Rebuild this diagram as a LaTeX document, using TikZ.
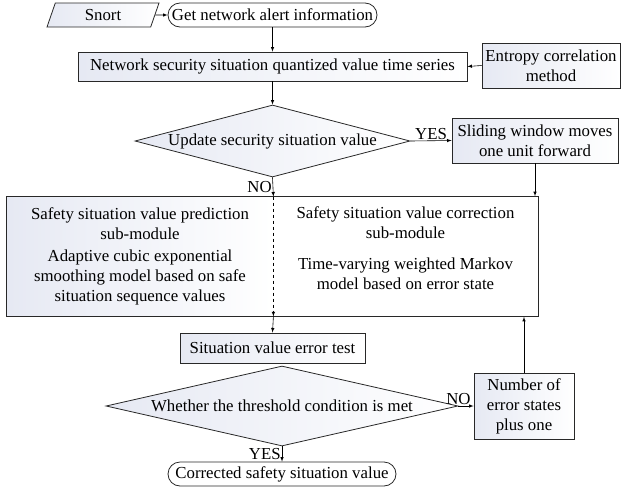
\documentclass[tikz,border=0pt]{standalone}
\usepackage{fontspec}
\setmainfont{Liberation Serif}
\usepackage{tikz}
\usetikzlibrary{arrows,calc,positioning,shapes,fit}
\definecolor{my_shade}{RGB}{230,233,243}
\definecolor{my_line}{RGB}{40,40,40}
\tikzset{
  flownode/.style = {align=center, inner sep=1pt, draw=my_line, line width=0.8pt,
  text=black, font=\fontsize{16.8}{20}\selectfont},
  shaded/.style = {left color=my_shade, right color=white},
  procbox/.style = {flownode, shaded, rectangle},
  termbox/.style = {flownode, rectangle, rounded corners=12pt},
  decide/.style = {flownode, shaded, diamond, inner sep=0pt},
  iobox/.style = {flownode, shaded, trapezium, trapezium left angle=58,
  trapezium right angle=122, trapezium stretches body},
  tag/.style = {font=\fontsize{16.8}{20}\selectfont, inner sep=1pt}
}

\begin{document}
\begin{tikzpicture}[->,>=latex,x=1pt,y=1pt,line width=0.6pt]
  \useasboundingbox (0,0) rectangle (621,-490);
  % top row
  \node [iobox, minimum width=112pt, minimum height=24pt] (snort) at (103,-15) {Snort};
  \node [termbox, minimum width=209pt, minimum height=24pt] (alert) at (272.5,-15) {Get network alert information};
  \node [procbox, minimum width=389pt, minimum height=29pt] (series) at (272.5,-66.5) {Network security situation quantized value time series};
  \node [procbox, minimum width=138pt, minimum height=45pt] (entropy) at (551,-65.5) {Entropy correlation\\method};
  % update decision
  \node [decide, minimum width=275pt, minimum height=72pt, aspect=3.8] (update) at (272.5,-141) {Update security situation value};
  \node [procbox, minimum width=166pt, minimum height=45pt] (slide) at (535,-140.5) {Sliding window moves\\one unit forward};
  % two sub-modules
  \node [flownode, shaded, draw=none, minimum width=266pt, minimum height=119pt] (pred) at (140,-256.5)
    {Safety situation value prediction\\sub-module\\[2pt]Adaptive cubic exponential\\smoothing model based on safe\\situation sequence values};
  \node [flownode, draw=none, minimum width=265pt, minimum height=119pt] (corr) at (405.5,-256.5)
    {Safety situation value correction\\sub-module\\[11pt]Time-varying weighted Markov\\model based on error state\\[-10pt]\strut};
  \node [draw=my_line, line width=0.8pt, inner sep=0pt, fit=(pred)(corr)] (module) {};
  % error test and threshold
  \node [procbox, minimum width=185pt, minimum height=30pt] (errtest) at (272.5,-348) {Situation value error test};
  \node [decide, minimum width=352pt, minimum height=80pt, aspect=4.4] (thresh) at (282,-406) {Whether the threshold condition is met};
  \node [procbox, minimum width=100pt, minimum height=66pt] (count) at (524,-406) {Number of\\error states\\plus one};
  \node [termbox, minimum width=228pt, minimum height=24pt] (result) at (282,-474) {Corrected safety situation value};

  \draw (snort.east) -- (alert.west);
  \draw (alert.south) -- (series.north);
  \draw (entropy.west) -- (series.east);
  \draw (series.south) -- (update.north);
  \draw (update.east) -- node [tag, above] {YES} (slide.west);
  \draw (update.south) -- node [tag, left] {NO} (pred.north east);
  \draw (slide.south) -- (slide.south |- module.north);
  \draw [dashed] (pred.north east) -- (pred.south east);
  \draw (pred.south east) -- (errtest.north);
  \draw (thresh.east) -- node [tag, above, pos=0] {NO} (count.west);
  \draw (count.north) -- (count.north |- module.south);
  \draw (thresh.south) -- node [tag, left] {YES} (result.north);
\end{tikzpicture}
\end{document}
